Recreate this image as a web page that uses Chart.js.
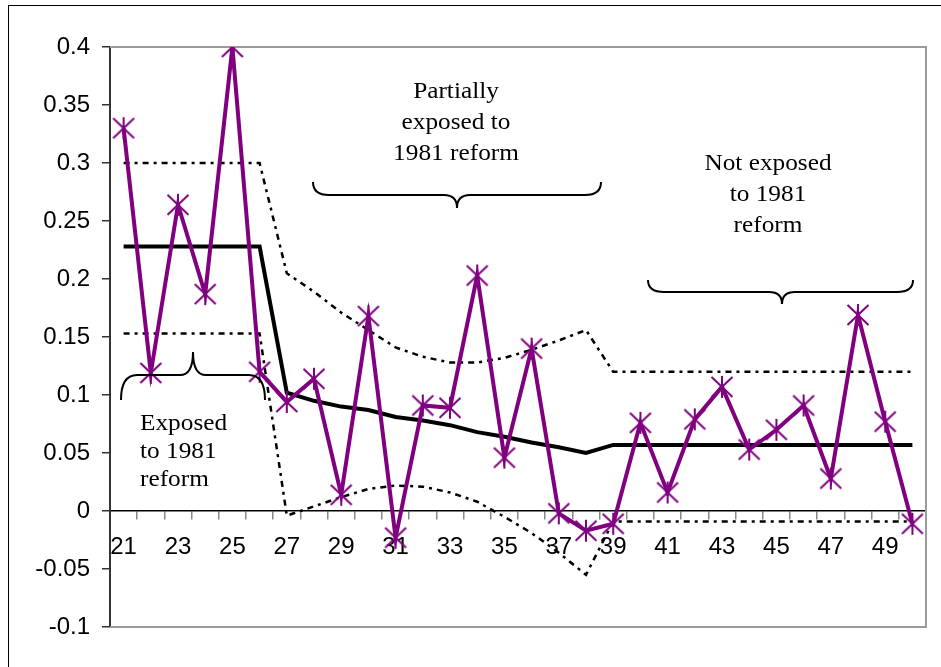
<!DOCTYPE html>
<html>
<head>
<meta charset="utf-8">
<script src="https://cdn.jsdelivr.net/npm/chart.js@4/dist/chart.umd.min.js"></script>
<style>
  html, body { margin: 0; padding: 0; background: #fff; }
  #c { display: block; }
</style>
</head>
<body>
<canvas id="c" width="941" height="667"></canvas>
<script>
// ---------- data ----------
const categories = [21,22,23,24,25,26,27,28,29,30,31,32,33,34,35,36,37,38,39,40,41,42,43,44,45,46,47,48,49,50];
const xTickLabels = ['21','','23','','25','','27','','29','','31','','33','','35','','37','','39','','41','','43','','45','','47','','49',''];
const yTickLabels = ['0.4','0.35','0.3','0.25','0.2','0.15','0.1','0.05','0','-0.05','-0.1'];

const estimates = [0.330, 0.119, 0.264, 0.187, 0.400, 0.120, 0.094, 0.114, 0.014, 0.168,
                   -0.023, 0.091, 0.089, 0.203, 0.046, 0.140, -0.002, -0.017, -0.011, 0.076,
                   0.016, 0.079, 0.107, 0.053, 0.070, 0.091, 0.028, 0.169, 0.077, -0.011];
const fitted    = [0.228, 0.228, 0.228, 0.228, 0.228, 0.228, 0.102, 0.095, 0.090, 0.087,
                   0.081, 0.078, 0.074, 0.068, 0.064, 0.059, 0.055, 0.050, 0.057, 0.057,
                   0.057, 0.057, 0.057, 0.057, 0.057, 0.057, 0.057, 0.057, 0.057, 0.057];
const upperBand = [0.300, 0.300, 0.300, 0.300, 0.300, 0.300, 0.205, 0.189, 0.171, 0.156,
                   0.141, 0.133, 0.128, 0.128, 0.132, 0.139, 0.147, 0.156, 0.120, 0.120,
                   0.120, 0.120, 0.120, 0.120, 0.120, 0.120, 0.120, 0.120, 0.120, 0.120];
const lowerBand = [0.153, 0.153, 0.153, 0.153, 0.153, 0.153, -0.004, 0.004, 0.012, 0.019,
                   0.022, 0.021, 0.016, 0.008, -0.005, -0.019, -0.036, -0.055, -0.009, -0.009,
                   -0.009, -0.009, -0.009, -0.009, -0.009, -0.009, -0.009, -0.009, -0.009, -0.009];

const annotations = [
  { lines: ['Partially', 'exposed to', '1981 reform'], x: 456, y: 98, lh: 31, align: 'center' },
  { lines: ['Not exposed', 'to 1981', 'reform'], x: 768, y: 170, lh: 31, align: 'center' },
  { lines: ['Exposed', 'to 1981', 'reform'], x: 140, y: 430, lh: 28, align: 'left' }
];
// braces: x1, x2, tip x, end y, bar y, tip y
const braces = [
  { x1: 313, x2: 601, xt: 457, yEnd: 182, yBar: 195, yTip: 208 },
  { x1: 648, x2: 913, xt: 782, yEnd: 280, yBar: 292, yTip: 304 },
  { x1: 121, x2: 265, xt: 193, yEnd: 400, yBar: 375, yTip: 352 }
];

// ---------- marker (X with vertical bar) ----------
function makeStar(color) {
  const s = 24, c = document.createElement('canvas');
  c.width = s; c.height = s;
  const g = c.getContext('2d');
  g.strokeStyle = color; g.lineWidth = 2; g.lineCap = 'butt';
  g.beginPath();
  g.moveTo(1.5, 2); g.lineTo(22.5, 22);
  g.moveTo(22.5, 2); g.lineTo(1.5, 22);
  g.moveTo(12, 1); g.lineTo(12, 23);
  g.stroke();
  return c;
}
const PURPLE = '#800080';
const star = makeStar(PURPLE);

Chart.defaults.font.family = "'Liberation Sans', Arial, sans-serif";
Chart.defaults.color = '#000';

const decor = {
  id: 'decor',
  beforeDraw(chart) {
    const ctx = chart.ctx;
    ctx.save();
    ctx.fillStyle = '#fff';
    ctx.fillRect(0, 0, chart.width, chart.height);
    ctx.strokeStyle = '#000';
    ctx.lineWidth = 1;
    ctx.strokeRect(8.5, 5.5, 960, 700);
    ctx.restore();
  },
  beforeDatasetsDraw(chart) {
    const ctx = chart.ctx, a = chart.chartArea;
    ctx.save();
    ctx.strokeStyle = '#9a9a9a';
    ctx.lineWidth = 2;
    ctx.beginPath();
    ctx.moveTo(a.left, a.top);
    ctx.lineTo(a.right, a.top);
    ctx.lineTo(a.right, a.bottom);
    ctx.lineTo(a.left, a.bottom);
    ctx.stroke();
    ctx.restore();
  },
  afterDraw(chart) {
    const ctx = chart.ctx;
    ctx.save();
    ctx.fillStyle = '#000';
    ctx.font = "23px 'Liberation Serif', 'Times New Roman', serif";
    ctx.textBaseline = 'alphabetic';
    annotations.forEach(an => {
      an.lines.forEach((ln, i) => {
        ctx.save();
        ctx.translate(an.x, an.y + i * an.lh);
        ctx.scale(1.1, 1);
        ctx.textAlign = an.align;
        ctx.fillText(ln, 0, 0);
        ctx.restore();
      });
    });
    ctx.strokeStyle = '#000';
    ctx.lineWidth = 2;
    braces.forEach(b => {
      const r = 16, rt = 13;
      ctx.beginPath();
      ctx.moveTo(b.x1, b.yEnd);
      ctx.quadraticCurveTo(b.x1, b.yBar, b.x1 + r, b.yBar);
      ctx.lineTo(b.xt - rt, b.yBar);
      ctx.quadraticCurveTo(b.xt, b.yBar, b.xt, b.yTip);
      ctx.quadraticCurveTo(b.xt, b.yBar, b.xt + rt, b.yBar);
      ctx.lineTo(b.x2 - r, b.yBar);
      ctx.quadraticCurveTo(b.x2, b.yBar, b.x2, b.yEnd);
      ctx.stroke();
    });
    ctx.restore();
  }
};

const bandStyle = {
  borderColor: '#000',
  borderWidth: 2.5,
  borderDash: [6, 5, 3, 5],
  pointRadius: 0,
  fill: false,
  tension: 0
};

new Chart(document.getElementById('c'), {
  type: 'line',
  data: {
    labels: categories,
    datasets: [
      { label: 'estimates', data: estimates, borderColor: PURPLE, borderWidth: 4,
        pointStyle: star, pointRadius: 11, tension: 0, fill: false },
      { label: 'fitted', data: fitted, borderColor: '#000', borderWidth: 4,
        pointRadius: 0, tension: 0, fill: false },
      Object.assign({ label: 'upper', data: upperBand }, bandStyle),
      Object.assign({ label: 'lower', data: lowerBand }, bandStyle)
    ]
  },
  options: {
    responsive: false,
    animation: false,
    events: [],
    layout: { padding: { left: 0, top: 47, right: 9, bottom: 40 } },
    plugins: { legend: { display: false }, tooltip: { enabled: false } },
    scales: {
      x: {
        type: 'category',
        position: { y: 0 },
        offset: true,
        grid: { offset: true, drawOnChartArea: false, drawTicks: true, tickLength: 8,
                color: '#888', lineWidth: 1.5 },
        border: { display: true, color: '#000', width: 1.5 },
        ticks: {
          autoSkip: false, maxRotation: 0, minRotation: 0, padding: 14,
          font: { size: 24 }, color: '#000',
          callback: (v, i) => xTickLabels[i]
        }
      },
      y: {
        min: -0.1, max: 0.4,
        afterFit(scale) { scale.width = 110; },
        grid: { drawOnChartArea: false, drawTicks: true, tickLength: 8, color: '#333', lineWidth: 1.5 },
        border: { display: true, color: '#333', width: 2 },
        ticks: {
          stepSize: 0.05, padding: 12, font: { size: 24 }, color: '#000',
          callback: (v) => yTickLabels[Math.round((0.4 - v) / 0.05)]
        }
      }
    }
  },
  plugins: [decor]
});
</script>
</body>
</html>
